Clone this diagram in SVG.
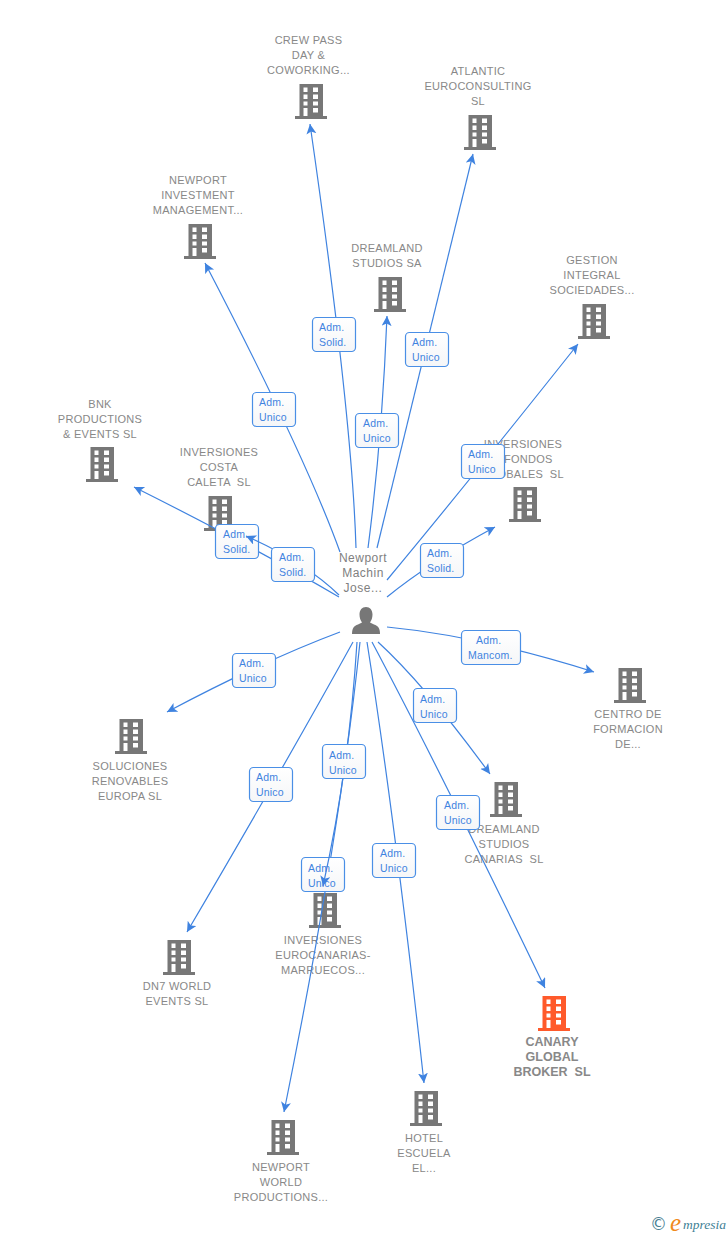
<svg xmlns="http://www.w3.org/2000/svg" xmlns:xlink="http://www.w3.org/1999/xlink" width="728" height="1235" viewBox="0 0 728 1235">
<style>
.l{font:11px "Liberation Sans",Arial,sans-serif;fill:#888;text-anchor:middle;letter-spacing:.28px}
.m{font:bold 12.5px "Liberation Sans",Arial,sans-serif;fill:#888;text-anchor:middle}
.p{font:12px "Liberation Sans",Arial,sans-serif;fill:#808080;text-anchor:middle;letter-spacing:.5px}
.c{fill:none;stroke:#3f83e0;stroke-width:1.2;marker-end:url(#a)}
.b{fill:url(#g);stroke:#4a8fe6;stroke-width:1.2}
.t{font:10.5px "Liberation Sans",Arial,sans-serif;fill:#3f83e0;letter-spacing:.2px}
</style>
<defs>
<linearGradient id="g" x1="0" y1="0" x2="0" y2="1"><stop offset="0" stop-color="#fff"/><stop offset="1" stop-color="#f5f6f8"/></linearGradient>
<marker id="a" markerUnits="userSpaceOnUse" markerWidth="12" markerHeight="12" refX="10" refY="5" orient="auto"><path d="M10 5L0 0L2.5 5L0 10Z" fill="#3f83e0"/></marker>
<path id="w" d="M-7.5 3.5h4v4.5h-4zM2 3.5h5v4.5h-5zM-7.5 10.5h4v4.5h-4zM2 10.5h5v4.5h-5zM-7.5 17.5h4v4h-4zM2 17.5h5v4h-5zM-7.5 24h4v8h-4zM2 24h5v4.5h-5z" fill="#fff"/>
<g id="bld"><path d="M-11.500 0h23.500v32h4v3h-32v-3h4.500z" fill="#777"/><use xlink:href="#w" href="#w"/></g>
<g id="bldo"><path d="M-11.500 0h23.500v32h4v3h-32v-3h4.500z" fill="#ff5a2b"/><use xlink:href="#w" href="#w"/></g>
</defs>
<rect width="728" height="1235" fill="#fff"/>
<g id="n1"><use href="#bld" x="311" y="84"/><text class="l"><tspan x="308.500" y="44">CREW PASS</tspan><tspan x="308.500" y="59">DAY &amp;</tspan><tspan x="308.500" y="74">COWORKING...</tspan></text></g>
<g id="n2"><use href="#bld" x="480" y="115"/><text class="l"><tspan x="478" y="75">ATLANTIC</tspan><tspan x="478" y="90">EUROCONSULTING</tspan><tspan x="478" y="105">SL</tspan></text></g>
<g id="n3"><use href="#bld" x="200" y="224"/><text class="l"><tspan x="198" y="184">NEWPORT</tspan><tspan x="198" y="199">INVESTMENT</tspan><tspan x="198" y="214">MANAGEMENT...</tspan></text></g>
<g id="n4"><use href="#bld" x="390" y="277"/><text class="l"><tspan x="387" y="252">DREAMLAND</tspan><tspan x="387" y="267">STUDIOS SA</tspan></text></g>
<g id="n5"><use href="#bld" x="594" y="304"/><text class="l"><tspan x="592" y="264">GESTION</tspan><tspan x="592" y="279">INTEGRAL</tspan><tspan x="592" y="294">SOCIEDADES...</tspan></text></g>
<g id="n6"><use href="#bld" x="102" y="447"/><text class="l"><tspan x="100" y="408">BNK</tspan><tspan x="100" y="423">PRODUCTIONS</tspan><tspan x="100" y="438">&amp; EVENTS SL</tspan></text></g>
<g id="n7"><use href="#bld" x="220" y="496"/><text class="l" xml:space="preserve"><tspan x="219" y="456">INVERSIONES</tspan><tspan x="219" y="471">COSTA</tspan><tspan x="219" y="486">CALETA  SL</tspan></text></g>
<g id="n8"><use href="#bld" x="525" y="487"/><text class="l" xml:space="preserve"><tspan x="523" y="448">INVERSIONES</tspan><tspan x="523" y="463">Y FONDOS</tspan><tspan x="523" y="478">GLOBALES  SL</tspan></text></g>
<g id="n9"><use href="#bld" x="630" y="668"/><text class="l"><tspan x="628" y="718">CENTRO DE</tspan><tspan x="628" y="733">FORMACION</tspan><tspan x="628" y="748">DE...</tspan></text></g>
<g id="n10"><use href="#bld" x="131" y="719"/><text class="l"><tspan x="130" y="770">SOLUCIONES</tspan><tspan x="130" y="785">RENOVABLES</tspan><tspan x="130" y="800">EUROPA SL</tspan></text></g>
<g id="n11"><use href="#bld" x="506" y="782"/><text class="l" xml:space="preserve"><tspan x="504" y="833">DREAMLAND</tspan><tspan x="504" y="848">STUDIOS</tspan><tspan x="504" y="863">CANARIAS  SL</tspan></text></g>
<g id="n12"><use href="#bld" x="179" y="940"/><text class="l"><tspan x="177" y="990">DN7 WORLD</tspan><tspan x="177" y="1005">EVENTS SL</tspan></text></g>
<g id="n13"><use href="#bld" x="325" y="893"/><text class="l"><tspan x="323" y="944">INVERSIONES</tspan><tspan x="323" y="959">EUROCANARIAS-</tspan><tspan x="323" y="974">MARRUECOS...</tspan></text></g>
<g id="n14"><use href="#bld" x="283" y="1120"/><text class="l"><tspan x="281" y="1171">NEWPORT</tspan><tspan x="281" y="1186">WORLD</tspan><tspan x="281" y="1201">PRODUCTIONS...</tspan></text></g>
<g id="n15"><use href="#bld" x="426" y="1091"/><text class="l"><tspan x="424" y="1142">HOTEL</tspan><tspan x="424" y="1157">ESCUELA</tspan><tspan x="424" y="1172">EL...</tspan></text></g>
<g id="n16"><use href="#bldo" x="554" y="996"/><text class="m" xml:space="preserve"><tspan x="552" y="1046">CANARY</tspan><tspan x="552" y="1061">GLOBAL</tspan><tspan x="552" y="1076">BROKER  SL</tspan></text></g>
<g id="person"><path d="M352 634c0-6 2-8 6-9.500l4-2c-1.500-2-2.500-5-2.500-8 0-4.500 2.500-7.500 6.500-7.500s6.500 3 6.500 7.500c0 3-1 6-2.500 8l4 2c4 1.500 6 3.500 6 9.500z" fill="#777"/><text class="p"><tspan x="363" y="562">Newport</tspan><tspan x="363" y="577">Machin</tspan><tspan x="363" y="592">Jose...</tspan></text></g>
<g id="connectors">
<path class="c" d="M356 548Q352 415 310 124"/><rect class="b" x="312.500" y="317.500" width="43" height="34" rx="4"/><text class="t"><tspan x="319" y="331">Adm.</tspan><tspan x="319" y="346">Solid.</tspan></text>
<path class="c" d="M377 548Q420 370 473 154"/><rect class="b" x="405.500" y="332.500" width="43" height="34" rx="4"/><text class="t"><tspan x="412" y="346">Adm.</tspan><tspan x="412" y="361">Unico</tspan></text>
<path class="c" d="M340 552Q305 455 205 263"/><rect class="b" x="252.500" y="392.500" width="43" height="34" rx="4"/><text class="t"><tspan x="259" y="406">Adm.</tspan><tspan x="259" y="421">Unico</tspan></text>
<path class="c" d="M368 548Q382 440 387 316"/><rect class="b" x="355.500" y="413.500" width="43" height="34" rx="4"/><text class="t"><tspan x="363" y="427">Adm.</tspan><tspan x="363" y="442">Unico</tspan></text>
<path class="c" d="M387 580Q470 480 578 344"/><rect class="b" x="461.500" y="444.500" width="43" height="34" rx="4"/><text class="t"><tspan x="468" y="458">Adm.</tspan><tspan x="468" y="473">Unico</tspan></text>
<path class="c" d="M387 597Q430 562 495 527"/><rect class="b" x="420.500" y="543.500" width="43" height="34" rx="4"/><text class="t"><tspan x="427" y="557">Adm.</tspan><tspan x="427" y="572">Solid.</tspan></text>
<path class="c" d="M339 597Q250 545 134 487"/><rect class="b" x="215.500" y="524.500" width="43" height="34" rx="4"/><text class="t"><tspan x="223" y="538">Adm.</tspan><tspan x="223" y="553">Solid.</tspan></text>
<path class="c" d="M339 595Q305 562 246 536"/><rect class="b" x="271.500" y="547.500" width="43" height="34" rx="4"/><text class="t"><tspan x="279" y="561">Adm.</tspan><tspan x="279" y="576">Solid.</tspan></text>
<path class="c" d="M387 627Q480 636 594 672"/><rect class="b" x="461.500" y="630.500" width="59" height="34" rx="4"/><text class="t"><tspan x="476" y="644">Adm.</tspan><tspan x="468" y="659">Mancom.</tspan></text>
<path class="c" d="M340 632Q265 660 167 712"/><rect class="b" x="232.500" y="653.500" width="43" height="34" rx="4"/><text class="t"><tspan x="239" y="667">Adm.</tspan><tspan x="239" y="682">Unico</tspan></text>
<path class="c" d="M378 642Q425 685 490 774"/><rect class="b" x="413.500" y="688.500" width="43" height="34" rx="4"/><text class="t"><tspan x="420" y="703">Adm.</tspan><tspan x="420" y="718">Unico</tspan></text>
<path class="c" d="M372 642Q440 770 545 988"/><rect class="b" x="436.500" y="795.500" width="43" height="34" rx="4"/><text class="t"><tspan x="444" y="809">Adm.</tspan><tspan x="444" y="824">Unico</tspan></text>
<path class="c" d="M367 642Q395 820 424 1083"/><rect class="b" x="372.500" y="843.500" width="43" height="34" rx="4"/><text class="t"><tspan x="380" y="857">Adm.</tspan><tspan x="380" y="872">Unico</tspan></text>
<path class="c" d="M353 642Q285 765 187 932"/><rect class="b" x="249.500" y="767.500" width="43" height="34" rx="4"/><text class="t"><tspan x="256" y="781">Adm.</tspan><tspan x="256" y="796">Unico</tspan></text>
<path class="c" d="M360 642Q340 835 284 1112"/><rect class="b" x="301.500" y="857.500" width="43" height="34" rx="4"/><text class="t"><tspan x="308" y="872">Adm.</tspan><tspan x="308" y="887">Unico</tspan></text>
<path class="c" d="M357 642Q349 770 323 886"/><rect class="b" x="322.500" y="744.500" width="43" height="34" rx="4"/><text class="t"><tspan x="329" y="759">Adm.</tspan><tspan x="329" y="774">Unico</tspan></text>
</g>
<g id="logo"><text x="650" y="1230" font-family="'DejaVu Sans',sans-serif" font-size="17" fill="#4a7f94">©</text><text x="670" y="1231" font-family="'Liberation Serif',serif" font-style="italic" font-size="25" fill="#f08a1d">e</text><text x="683" y="1229" font-family="'Liberation Serif',serif" font-style="italic" font-size="13.500" fill="#3f7f95">mpresia</text></g>
</svg>
